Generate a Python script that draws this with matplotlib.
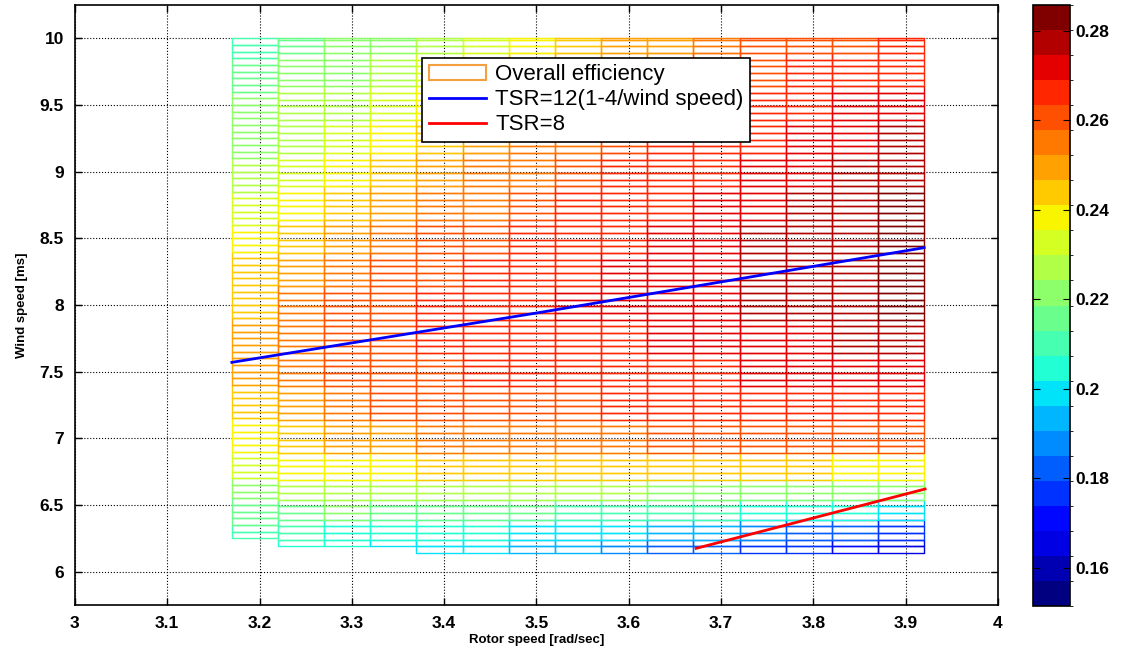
import numpy as np
import matplotlib
matplotlib.use("Agg")
import matplotlib.pyplot as plt
from matplotlib.collections import PolyCollection
from matplotlib.colors import BoundaryNorm
from matplotlib.patches import Patch
from matplotlib.lines import Line2D

plt.rcParams['font.family'] = ['Liberation Sans', 'DejaVu Sans']

# rotor speed columns (left edges, rad/sec) and the lowest wind speed of each column
rotor_left = [3.17, 3.22, 3.27, 3.32, 3.37, 3.42, 3.47, 3.52,
              3.57, 3.62, 3.67, 3.72, 3.77, 3.82, 3.87]
rotor_right_edge = 3.92
column_bottom = [6.25, 6.19, 6.19, 6.19, 6.14, 6.14, 6.14, 6.14,
                 6.14, 6.14, 6.14, 6.14, 6.14, 6.14, 6.14]
wind_top = 10.0
row_step = 0.05

# efficiency (x1000), rows = wind speed, cols = rotor column
wind_rows = [10.0, 9.75, 9.5, 9.25, 9.0, 8.75, 8.5, 8.25, 8.0, 7.75,
             7.5, 7.25, 7.0, 6.8, 6.6, 6.45, 6.3, 6.2]
eff_table = [
    [210, 215, 219, 224, 229, 234, 239, 244, 248, 252, 255, 258, 261, 263, 265],
    [214, 219, 223, 228, 233, 238, 243, 248, 252, 256, 259, 262, 264, 266, 268],
    [220, 225, 229, 234, 239, 244, 249, 253, 257, 260, 263, 266, 268, 270, 272],
    [224, 229, 234, 239, 244, 249, 253, 257, 261, 264, 267, 269, 271, 273, 275],
    [228, 234, 239, 244, 249, 253, 257, 261, 264, 267, 269, 271, 274, 276, 278],
    [234, 239, 244, 249, 253, 257, 261, 264, 267, 269, 271, 273, 276, 278, 281],
    [239, 245, 250, 254, 258, 262, 265, 267, 269, 271, 273, 275, 277, 279, 283],
    [243, 250, 254, 258, 261, 264, 267, 269, 271, 272, 274, 276, 278, 280, 284],
    [246, 254, 258, 261, 264, 266, 268, 270, 271, 272, 273, 275, 277, 279, 281],
    [247, 255, 259, 262, 264, 266, 267, 268, 269, 270, 271, 272, 274, 275, 276],
    [247, 254, 258, 261, 263, 264, 265, 266, 267, 268, 269, 270, 271, 272, 272],
    [244, 251, 255, 258, 260, 261, 262, 263, 264, 264, 265, 265, 266, 266, 266],
    [238, 245, 249, 252, 254, 255, 256, 257, 257, 258, 258, 258, 258, 258, 258],
    [231, 236, 239, 241, 242, 242, 242, 242, 242, 242, 242, 242, 242, 241, 241],
    [223, 226, 228, 228, 228, 227, 226, 226, 225, 224, 223, 222, 221, 220, 219],
    [216, 218, 219, 218, 217, 216, 215, 213, 212, 210, 209, 207, 205, 203, 201],
    [208, 208, 207, 206, 205, 203, 201, 199, 197, 194, 191, 188, 185, 182, 178],
    [206, 205, 203, 201, 199, 197, 194, 191, 188, 185, 182, 178, 174, 170, 166],
]

# reference lines
tsr12_x = [3.17, 3.50, 3.92]
tsr12_y = [7.57, 7.94, 8.43]
tsr8_x = [3.673, 3.921]
tsr8_y = [6.175, 6.62]

eff_min, eff_max = 0.1515, 0.2858
cbar_ticks = [0.16, 0.18, 0.20, 0.22, 0.24, 0.26, 0.28]

levels = np.linspace(eff_min, eff_max, 25)
cmap = plt.get_cmap('jet', len(levels) - 1)
norm = BoundaryNorm(levels, cmap.N)

fig = plt.figure(figsize=(11.22, 6.53), dpi=100)
ax = fig.add_axes([0.0668, 0.0735, 0.8227, 0.9188])

rights = rotor_left[1:] + [rotor_right_edge]
wind_arr = np.array(wind_rows)
eff_arr = np.array(eff_table) / 1000.0
polys, vals = [], []
for j, (x0, x1) in enumerate(zip(rotor_left, rights)):
    y0 = column_bottom[j]
    while y0 < wind_top - 1e-6:
        y1 = min(y0 + row_step, wind_top)
        i = np.argmin(np.abs(wind_arr - (y0 + y1) / 2))
        polys.append([(x0, y0), (x1, y0), (x1, y1), (x0, y1)])
        vals.append(eff_arr[i, j])
        y0 = y1
edge_cols = cmap(norm(np.array(vals)))
pc = PolyCollection(polys, facecolors='none', edgecolors=edge_cols,
                    linewidths=1.0, zorder=2)
ax.add_collection(pc)

ax.plot(tsr12_x, tsr12_y, color='#0000ff', lw=2, zorder=3)
ax.plot(tsr8_x, tsr8_y, color='#ff0000', lw=2, zorder=3)

ax.set_xlim(3, 4)
ax.set_ylim(5.75, 10.25)
ax.set_xticks(np.arange(3, 4.01, 0.1))
ax.set_xticklabels(['3', '3.1', '3.2', '3.3', '3.4', '3.5', '3.6', '3.7', '3.8', '3.9', '4'])
ax.set_yticks(np.arange(6, 10.01, 0.5))
ax.set_yticklabels(['6', '6.5', '7', '7.5', '8', '8.5', '9', '9.5', '10'])
ax.grid(True, color='black', linestyle=':', linewidth=0.8, zorder=1)
ax.set_axisbelow(True)
ax.tick_params(direction='in', length=5, width=1, top=True, right=True,
               labelsize=12.5, pad=8)
for lab in ax.get_xticklabels() + ax.get_yticklabels():
    lab.set_fontweight('bold')
for s in ax.spines.values():
    s.set_linewidth(1.2)
ax.set_xlabel('Rotor speed [rad/sec]', fontsize=9.5, fontweight='bold', labelpad=2)
ax.set_ylabel('Wind speed [ms]', fontsize=9.5, fontweight='bold', labelpad=8)

handles = [Patch(facecolor='white', edgecolor='#f5a040', lw=1.5),
           Line2D([], [], color='#0000ff', lw=2),
           Line2D([], [], color='#ff0000', lw=2)]
leg = ax.legend(handles, ['Overall efficiency', 'TSR=12(1-4/wind speed)', 'TSR=8'],
                loc='upper left', bbox_to_anchor=(0.376, 0.912), fontsize=16,
                fancybox=False, framealpha=1, edgecolor='black',
                borderaxespad=0, borderpad=0.3, labelspacing=0.18,
                handlelength=2.6, handletextpad=0.4)
leg.get_frame().set_linewidth(1.2)
leg.set_zorder(5)

cax = fig.add_axes([0.9207, 0.072, 0.033, 0.9203])
cb = matplotlib.colorbar.ColorbarBase(cax, cmap=cmap, norm=norm,
                                      boundaries=levels, spacing='proportional')
cb.set_ticks(cbar_ticks)
cb.set_ticklabels(['0.16', '0.18', '0.2', '0.22', '0.24', '0.26', '0.28'])
cax.tick_params(direction='in', length=5, labelsize=12.5, left=True, right=True)
for lab in cax.get_yticklabels():
    lab.set_fontweight('bold')
cb.outline.set_linewidth(1.2)

fig.savefig('out.png', dpi=100)
